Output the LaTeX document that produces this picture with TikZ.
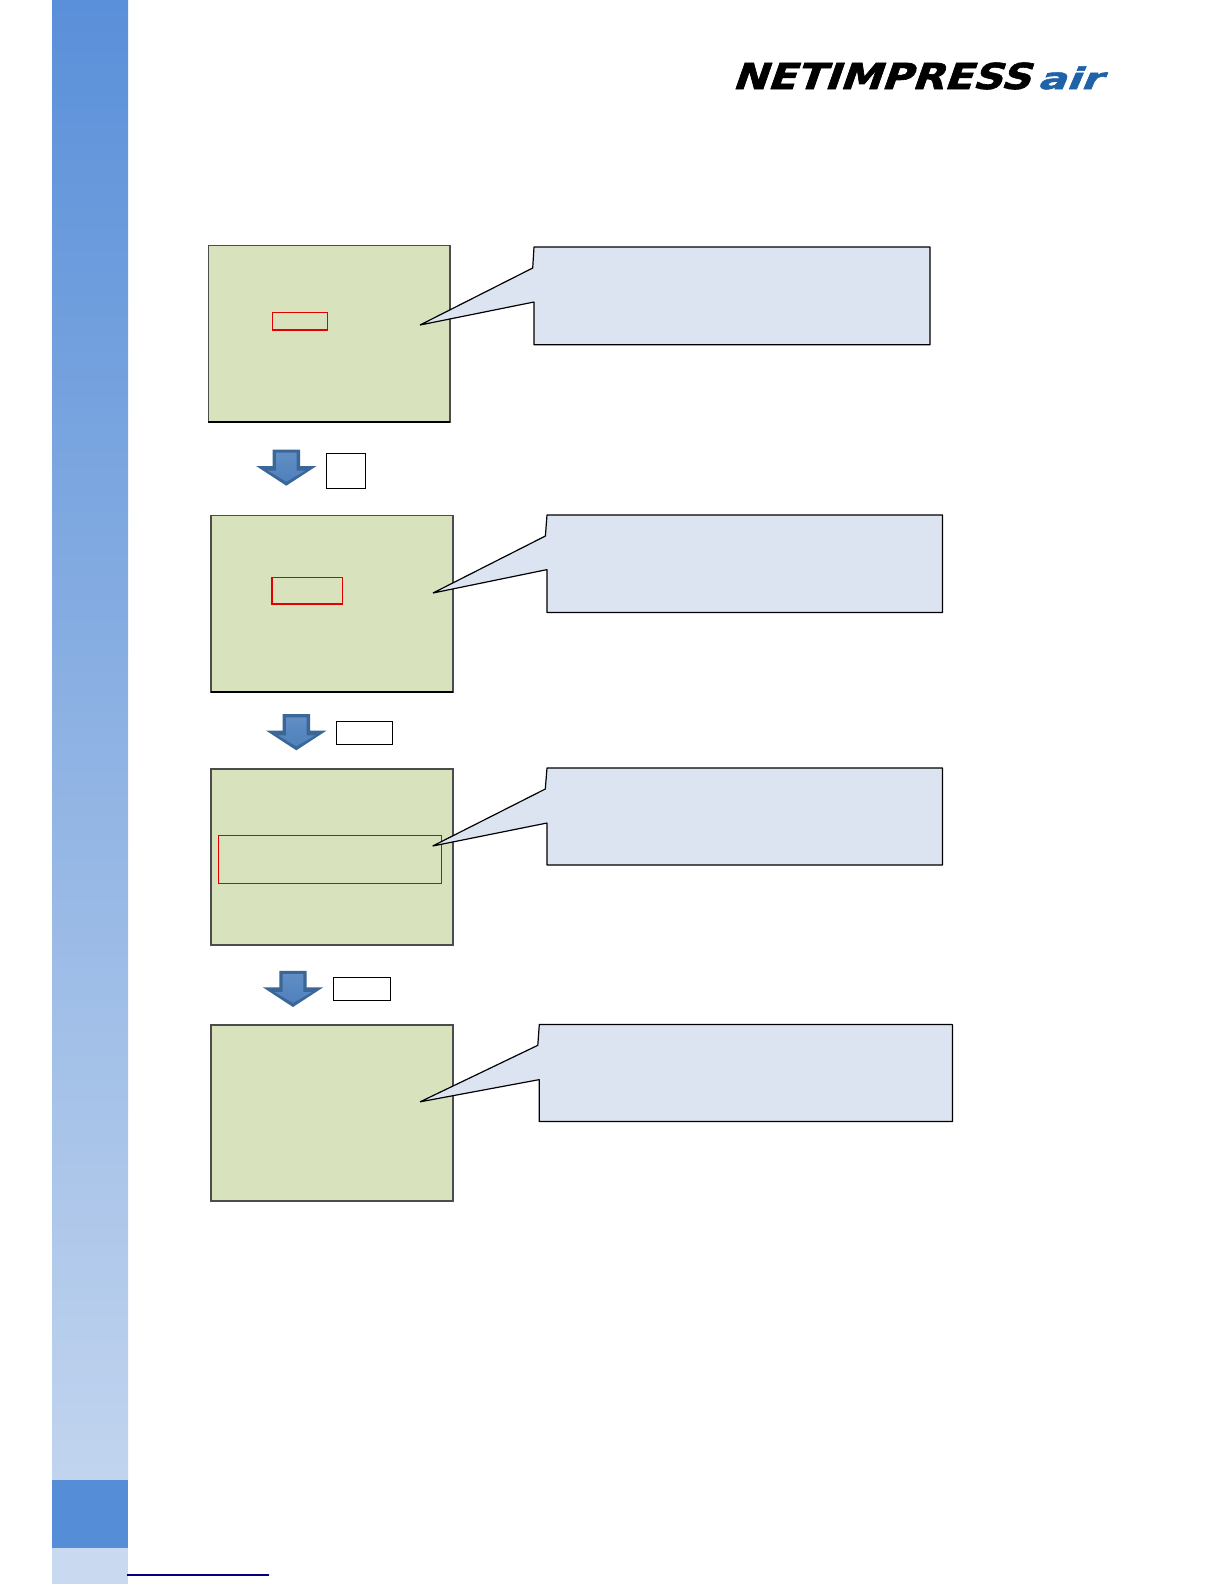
\documentclass[tikz,border=0pt]{standalone}
\usepackage{fontspec}
\newfontfamily\logofont[FakeSlant=0.3,FakeBold=1.6]{DejaVu Sans Bold}
\definecolor{screenfill}{HTML}{D8E3BD}
\definecolor{calloutfill}{HTML}{DCE4F2}
\definecolor{barblue}{HTML}{558DD6}
\definecolor{bartop}{HTML}{5A90D9}
\definecolor{barlow}{HTML}{C1D4EE}
\definecolor{barpale}{HTML}{C8D9F0}
\definecolor{arrowfill}{HTML}{4F81BD}
\definecolor{arrowedge}{HTML}{3B6698}
\definecolor{logoblue}{HTML}{1F62A8}
\tikzset{
  screenbox/.style={draw=black!70,fill=screenfill,line width=0.48pt,line join=miter},
  screenbase/.style={draw=black,line width=0.48pt},
  redbox/.style={draw=red!90!black,line width=0.34pt},
  callout/.style={draw=black,fill=calloutfill,line width=0.34pt,line join=bevel},
  keybox/.style={draw=black,fill=white,line width=0.34pt},
  pics/downarr/.style={code={
    \fill[arrowedge] (-13.6,-36.2) -- (13.7,-36.2) -- (13.7,-19.7) -- (30.2,-19.7) -- (0,0) -- (-30.2,-19.7) -- (-13.6,-19.7) -- cycle;
    \shade[top color=arrowfill!90!white,bottom color=arrowfill] (-10.3,-33) -- (10.4,-33) -- (10.4,-15) -- (19,-15) -- (0,-4) -- (-18.3,-15) -- (-10.3,-15) -- cycle;
  }},
}
\begin{document}
\begin{tikzpicture}[x=0.01cm,y=-0.01cm]
\useasboundingbox (0,0) rectangle (1224,1584);
\fill[white] (0,0) rectangle (1224,1584);
% side bar
\shade[top color=bartop,bottom color=barlow] (52,0) rectangle (128,1480);
\fill[barblue] (52,1480) rectangle (128,1548);
\fill[barpale] (52,1548) rectangle (128,1584);
\draw[draw=blue!50!black,line width=0.4pt] (127,1575) -- (269,1575);
% logo
\node[anchor=south west,inner sep=0pt,outer sep=0pt] (logoname) at (732,89.5)
  {\resizebox{2.98cm}{0.265cm}{\logofont NETIMPRESS}};
\node[anchor=south west,inner sep=0pt,outer sep=0pt,text=logoblue] (logoair) at (1037,89.5)
  {\resizebox{0.64cm}{0.226cm}{\logofont air}};
% screens
\draw[screenbox] (208.5,245.5) rectangle (450,422);
\draw[screenbase] (208.3,422) -- (450.2,422);
\draw[screenbox] (211.3,515.5) rectangle (453,692.3);
\draw[screenbase] (211.1,692.3) -- (453.2,692.3);
\draw[screenbox] (211.3,769) rectangle (453,945.3);
\draw[screenbox] (211.3,1025) rectangle (453,1200.8);
% red frames
\draw[redbox] (272.5,312.5) rectangle (327.5,330);
\draw[redbox] (272,577.7) rectangle (342.5,604);
\draw[redbox] (218.3,835.3) rectangle (441.3,883.3);
% callouts
\draw[callout] (534,247) -- (930,247) -- (930,344.7) -- (534,344.7) -- (534,302) -- (420,325) -- (532.7,268) -- cycle;
\draw[callout] (547,515) -- (942.5,515) -- (942.5,612.5) -- (547,612.5) -- (547,569.6) -- (433,593) -- (545.4,536) -- cycle;
\draw[callout] (547,768) -- (942.5,768) -- (942.5,865) -- (547,865) -- (547,823) -- (432.7,846) -- (545.3,789) -- cycle;
\draw[callout] (539.3,1024.5) -- (952.4,1024.5) -- (952.4,1121.5) -- (539.3,1121.5) -- (539.3,1079.6) -- (420.1,1101.8) -- (537.8,1045.3) -- cycle;
% arrows
\pic (arrowa) at (286.3,485.7) {downarr};
\pic (arrowb) at (296.3,750.3) {downarr};
\pic (arrowc) at (293,1007) {downarr};
% key boxes
\draw[keybox] (326.3,453.3) rectangle (365.7,488.3);
\draw[keybox] (336.3,721.3) rectangle (392.7,744.3);
\draw[keybox] (333.3,977.6) rectangle (390.8,1000.8);
\end{tikzpicture}
\end{document}
